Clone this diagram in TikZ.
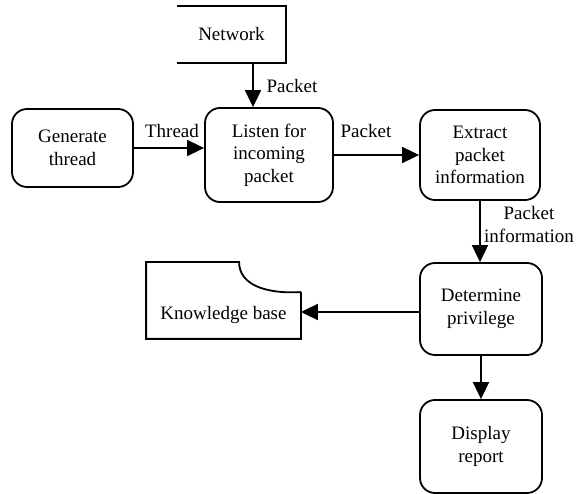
\documentclass[tikz,border=0pt]{standalone}
\usepackage{fontspec}
\setmainfont{Liberation Serif}
\usetikzlibrary{arrows.meta,calc}
\begin{document}
\begin{tikzpicture}[x=1pt,y=-1pt,
  line width=1.8pt,
  every node/.style={font=\fontsize{19}{22.5}\selectfont, align=center},
  proc/.style={draw, rounded corners=15pt, inner sep=0pt},
  lbl/.style={inner sep=0pt},
  arr/.style={-{Triangle[length=17pt,width=16pt]}}
]
\useasboundingbox (0,0) rectangle (576,494);
% process boxes
\node[proc, minimum width=121pt, minimum height=78pt] (gen) at (72.5,148) {Generate\\thread};
\node[proc, minimum width=128pt, minimum height=94pt] (listen) at (269,155) {Listen for\\incoming\\packet};
\node[proc, minimum width=120pt, minimum height=90pt] (extract) at (480,155) {Extract\\packet\\information};
\node[proc, minimum width=122pt, minimum height=92pt] (determine) at (481,309) {Determine\\privilege};
\node[proc, minimum width=122pt, minimum height=93pt] (display) at (481,446.5) {Display\\report};
% network (open-left store)
\node[inner sep=0pt, minimum width=107pt, minimum height=55pt] (network) at (231.5,34.5) {Network};
\draw (network.north west) -- (network.north east) -- (network.south east) -- (network.south west);
% knowledge base
\node[inner sep=0pt, minimum width=153pt, minimum height=75pt] (kb) at (223.5,300.5) {};
\node[lbl] (kbtext) at (223.5,315) {Knowledge base};
\coordinate (kbn) at ($(kb.north west)+(93,0)$);
\coordinate (kbe) at ($(kb.north east)+(0,30)$);
\draw (kbe) -- (kb.south east) -- (kb.south west) -- (kb.north west) -- (kbn)
  .. controls ($(kbn)+(0,22)$) and ($(kbn)+(25,32)$) .. (kbe);
% connectors
\coordinate (netb) at (253,62);
\draw[arr] (netb) -- (netb |- listen.north);
\draw[arr] (gen.east) -- (gen.east -| listen.west);
\draw[arr] (listen.east) -- (listen.east -| extract.west);
\draw[arr] (extract.south) -- (extract.south |- determine.north);
\coordinate (dw) at ($(determine.west)+(0,3)$);
\draw[arr] (dw) -- (dw -| kb.east);
\draw[arr] (determine.south) -- (display.north);
% labels
\node[lbl] (l1) at (292,86) {Packet};
\node[lbl] (l2) at (172,131) {Thread};
\node[lbl] (l3) at (366,131) {Packet};
\node[lbl, font=\fontsize{19}{23}\selectfont] (l4) at (529,225) {Packet\\information};
\end{tikzpicture}
\end{document}
